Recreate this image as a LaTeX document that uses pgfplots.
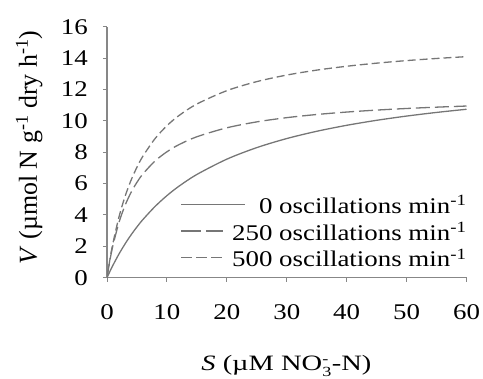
\documentclass[border=0pt]{standalone}
\usepackage{fontspec}
\setmainfont{Liberation Serif}
\newfontfamily\wide[FakeStretch=1.2]{Liberation Serif}
\newfontfamily\wider[FakeStretch=1.3]{Liberation Serif}
\usepackage{pgfplots}
\pgfplotsset{compat=1.18}
\definecolor{curve}{RGB}{118,118,118}
\definecolor{axc}{RGB}{135,135,135}
\newcommand\smallsz{\fontsize{14}{14}\selectfont}
\begin{document}
\begin{tikzpicture}
\path[use as bounding box] (0,0) rectangle (483bp,379bp);
\begin{axis}[
  at={(107bp,101.3bp)}, anchor=south west,
  scale only axis, width=359.5bp, height=251bp,
  xmin=0, xmax=60, ymin=0, ymax=16,
  xtick={0,10,...,60}, ytick={0,2,...,16},
  axis x line*=bottom, axis y line*=left,
  axis line style={draw=axc, line width=1.1bp, -},
  tick style={draw=axc, line width=1bp},
  tick align=outside, major tick length=4bp,
  /pgf/number format/assume math mode=true,
  tick label style={font=\wide\fontsize{22.5}{27}\selectfont, inner sep=0pt},
  xticklabel style={anchor=north, yshift=-23bp},
  yticklabel style={anchor=east, xshift=-15bp},
  every axis x label/.style={at={(axis description cs:0.499,-0.3717)}, anchor=base,
     font=\wider\fontsize{22}{26}\selectfont},
  every axis y label/.style={at={(axis description cs:-0.195,0.519)}, rotate=90, anchor=base,
     font=\fontsize{26}{30}\selectfont},
  xlabel={\textit{S} (µM NO$_{\hbox{\smallsz 3}}^{\hbox{\smallsz -}}$-N)},
  ylabel={\textit{V} (µmol N g\textsuperscript{-1} dry h\textsuperscript{-1})},
  legend cell align=right,
  legend style={draw=none, fill=none, inner sep=0pt, outer sep=0pt,
    at={(rel axis cs:1,0)}, anchor=south east, yshift=2.3bp,
    row sep=0pt, column sep=0pt,
    font=\wide\fontsize{22.5}{27}\selectfont,
    nodes={inner sep=0pt, text height=18bp, text depth=8.7bp}},
]
\addplot[curve, line width=1.3bp, smooth,
  legend image code/.code={\draw[curve, line width=1.3bp] (0bp,4.35bp) -- (50bp,4.35bp);\draw[curve, line width=1.3bp, overlay] (50bp,4.35bp) -- (64bp,4.35bp);}]
coordinates {(0,0) (0.5,0.412) (1,0.8) (2,1.511) (3,2.147) (4,2.72) (5,3.238) (6,3.709) (8,4.533) (10,5.231) (12,5.829) (15,6.581) (20,7.556) (25,8.293) (30,8.870) (35,9.333) (40,9.714) (45,10.033) (50,10.303) (55,10.535) (60,10.737)};
\addlegendentry{0 oscillations min\textsuperscript{-1}}
\addplot[curve, line width=1.3bp, smooth, dash pattern=on 14bp off 5bp,
  legend image code/.code={\draw[curve, line width=1.3bp, dash pattern=on 20bp off 5bp] (0bp,4.35bp) -- (42bp,4.35bp);}]
coordinates {(0,0) (0.5,1.135) (1,2.070) (2,3.522) (3,4.597) (4,5.425) (5,6.082) (6,6.617) (8,7.433) (10,8.027) (12,8.479) (15,8.985) (20,9.555) (25,9.933) (30,10.202) (35,10.403) (40,10.559) (45,10.684) (50,10.786) (55,10.871) (60,10.943)};
\addlegendentry{250 oscillations min\textsuperscript{-1}}
\addplot[curve, line width=1.3bp, smooth, dash pattern=on 8bp off 4bp,
  legend image code/.code={\draw[curve, line width=1.3bp, dash pattern=on 11bp off 4bp] (0bp,4.35bp) -- (42bp,4.35bp);}]
coordinates {(0,0) (0.5,1.192) (1,2.214) (2,3.875) (3,5.167) (4,6.2) (5,7.045) (6,7.75) (8,8.857) (10,9.688) (12,10.333) (15,11.071) (20,11.923) (25,12.5) (30,12.917) (35,13.232) (40,13.478) (45,13.676) (50,13.839) (55,13.975) (60,14.091)};
\addlegendentry{500 oscillations min\textsuperscript{-1}}
\end{axis}
\end{tikzpicture}
\end{document}
